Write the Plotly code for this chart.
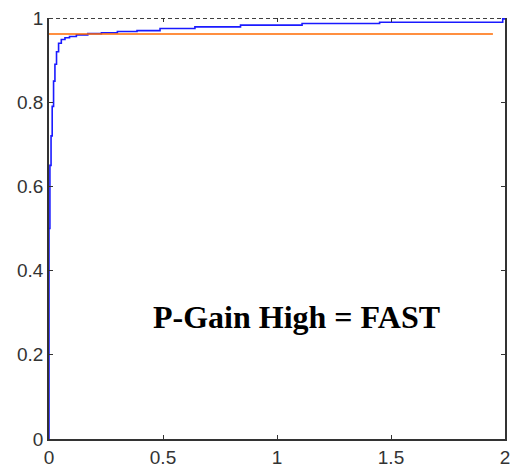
import plotly.graph_objects as go

# step response (time in s, normalized output)
t = [0, 0, 0.004, 0.009, 0.014, 0.02, 0.026, 0.033, 0.042, 0.054, 0.07, 0.09, 0.12,
     0.17, 0.23, 0.3, 0.386, 0.487, 0.64, 0.84, 1.11, 1.45, 1.99, 2.0]
response = [0, 0.5, 0.65, 0.72, 0.79, 0.85, 0.89, 0.92, 0.94, 0.949, 0.953, 0.956, 0.96,
            0.963, 0.965, 0.968, 0.97, 0.975, 0.979, 0.983, 0.987, 0.99, 0.998, 0.998]

setpoint_x = [0, 2]
setpoint_y = [1, 1]

band_x = [-0.057, 1.947]
band_y = [0.962, 0.962]

x_ticks = [0, 0.5, 1, 1.5, 2]
x_labels = ["0", "0.5", "1", "1.5", "2"]
y_ticks = [0, 0.2, 0.4, 0.6, 0.8, 1]
y_labels = ["0", "0.2", "0.4", "0.6", "0.8", "1"]

label_text = "P-Gain High = FAST"

fig = go.Figure()
fig.add_trace(go.Scatter(x=setpoint_x, y=setpoint_y, mode="lines",
                         line=dict(color="black", width=1.3, dash="4px,3px"),
                         cliponaxis=False, showlegend=False))
fig.add_trace(go.Scatter(x=t, y=response, mode="lines", line_shape="hv",
                         line=dict(color="#1a1aff", width=1.6),
                         cliponaxis=False, showlegend=False))
fig.add_trace(go.Scatter(x=band_x, y=band_y, mode="lines",
                         line=dict(color="#ff6a00", width=1.6),
                         cliponaxis=False, showlegend=False))
# invisible trace on top axis for top ticks
fig.add_trace(go.Scatter(x=[0, 2], y=[0, 0], xaxis="x2", mode="lines",
                         line=dict(width=0), hoverinfo="skip", showlegend=False))

tickfont = dict(family="Liberation Sans, Arial, sans-serif", size=19, color="#333333")

fig.update_layout(
    width=511, height=469,
    margin=dict(l=49, r=6, t=18, b=30, autoexpand=False),
    paper_bgcolor="white", plot_bgcolor="white",
    xaxis=dict(range=[0, 2], tickvals=x_ticks, ticktext=x_labels, automargin=False,
               showline=True, linecolor="#333333", linewidth=1.5,
               ticks="inside", ticklen=4, tickcolor="#333333", tickwidth=1,
               showgrid=False, zeroline=False, tickfont=tickfont),
    xaxis2=dict(range=[0, 2], overlaying="x", side="top", tickvals=x_ticks[1:-1],
                showticklabels=False, showline=False, ticks="inside", ticklen=4,
                automargin=False,
                tickcolor="#333333", showgrid=False, zeroline=False),
    yaxis=dict(range=[0, 1], tickvals=y_ticks, ticktext=y_labels, automargin=False,
               showline=True, mirror="ticks", linecolor="#333333", linewidth=1.5,
               ticks="inside", ticklen=4, tickcolor="#333333", tickwidth=1,
               showgrid=False, zeroline=False, tickfont=tickfont),
    annotations=[dict(x=1.085, y=0.29, xref="x", yref="y", text=f"<b>{label_text}</b>",
                      showarrow=False, xanchor="center", yanchor="middle",
                      font=dict(family="Liberation Serif, Times New Roman, serif",
                                size=32, color="black"))],
)

fig.write_html("out.html", config={"displayModeBar": False},
               post_script="document.body.style.margin='0';document.body.style.overflow='hidden';")
